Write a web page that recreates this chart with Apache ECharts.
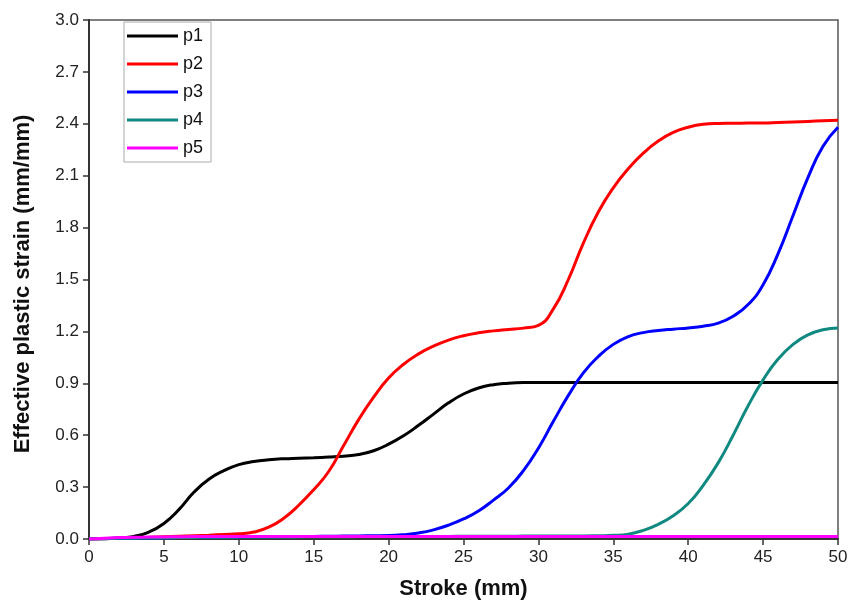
<!DOCTYPE html>
<html>
<head>
<meta charset="utf-8">
<script src="https://cdn.jsdelivr.net/npm/echarts@6/dist/echarts.min.js"></script>
<style>
html,body{margin:0;padding:0;background:#fff;}
#main{width:862px;height:605px;}
</style>
</head>
<body>
<div id="main"></div>
<script>
// stroke (mm), one sample per mm
var stroke = [];
for (var i = 0; i <= 50; i++) stroke.push(i);

var p1 = [0,0.002,0.006,0.015,0.04,0.09,0.17,0.27,0.345,0.395,
          0.43,0.448,0.458,0.464,0.467,0.47,0.474,0.479,0.488,0.51,
          0.548,0.597,0.657,0.722,0.787,0.838,0.873,0.892,0.9,0.904,
          0.905,0.905,0.905,0.905,0.905,0.905,0.905,0.905,0.905,0.905,
          0.905,0.905,0.905,0.905,0.905,0.905,0.905,0.905,0.905,0.905,0.905];
var p2 = [0,0.002,0.005,0.008,0.01,0.013,0.016,0.019,0.022,0.026,
          0.03,0.04,0.068,0.12,0.195,0.285,0.39,0.54,0.69,0.82,
          0.93,1.01,1.07,1.115,1.15,1.175,1.192,1.203,1.211,1.219,
          1.235,1.33,1.5,1.71,1.89,2.03,2.14,2.23,2.3,2.35,
          2.38,2.397,2.402,2.403,2.404,2.405,2.408,2.411,2.414,2.417,2.42];
var p3 = [0,0.002,0.004,0.005,0.006,0.007,0.008,0.009,0.01,0.011,
          0.012,0.013,0.013,0.014,0.014,0.015,0.016,0.017,0.018,0.019,
          0.02,0.025,0.035,0.053,0.08,0.116,0.162,0.225,0.295,0.395,
          0.525,0.68,0.83,0.96,1.055,1.125,1.17,1.193,1.205,1.213,
          1.22,1.23,1.248,1.288,1.355,1.47,1.65,1.87,2.09,2.27,2.38];
var p4 = [0,0.002,0.004,0.005,0.006,0.007,0.008,0.009,0.01,0.01,
          0.011,0.011,0.012,0.012,0.012,0.013,0.013,0.013,0.014,0.014,
          0.014,0.015,0.015,0.015,0.015,0.016,0.016,0.016,0.016,0.017,
          0.017,0.017,0.018,0.018,0.019,0.021,0.028,0.05,0.085,0.135,
          0.205,0.31,0.44,0.6,0.77,0.92,1.04,1.125,1.18,1.21,1.22];
var p5 = [0,0.005,0.008,0.01,0.011,0.012,0.013,0.014,0.014,0.015,
          0.015,0.015,0.015,0.015,0.015,0.015,0.015,0.015,0.015,0.015,
          0.015,0.015,0.015,0.015,0.015,0.015,0.015,0.015,0.015,0.015,
          0.015,0.015,0.015,0.015,0.015,0.015,0.015,0.015,0.015,0.015,
          0.015,0.015,0.015,0.015,0.015,0.015,0.015,0.015,0.015,0.015,0.015];

var names = ['p1','p2','p3','p4','p5'];
var colors = ['#000000','#ff0000','#0000ff','#108a80','#ff00ff'];
var values = [p1,p2,p3,p4,p5];

function pairs(arr) {
    var out = [];
    for (var i = 0; i < stroke.length; i++) out.push([stroke[i], arr[i]]);
    return out;
}

var series = [];
for (var k = 0; k < names.length; k++) {
    series.push({
        name: names[k],
        type: 'line',
        data: pairs(values[k]),
        smooth: 0.5,
        symbol: 'none',
        lineStyle: {color: colors[k], width: 3},
        itemStyle: {color: colors[k]}
    });
}

var font = 'Liberation Sans, Arial, sans-serif';
var myChart = echarts.init(document.getElementById('main'));
myChart.setOption({
    animation: false,
    backgroundColor: '#fff',
    grid: {
        left: 89, right: 24, top: 20, bottom: 65,
        show: true,
        borderColor: '#555',
        borderWidth: 1.5
    },
    legend: {
        orient: 'vertical',
        left: 124,
        top: 22,
        data: names,
        icon: 'rect',
        itemWidth: 51,
        itemHeight: 3,
        itemGap: 8,
        padding: [4, 8, 4, 3],
        borderColor: '#aaa',
        borderWidth: 1,
        textStyle: {fontFamily: font, fontSize: 18, color: '#111', lineHeight: 20}
    },
    xAxis: {
        type: 'value',
        min: 0, max: 50, interval: 5,
        name: 'Stroke (mm)',
        nameLocation: 'middle',
        nameGap: 39,
        nameTextStyle: {fontFamily: font, fontSize: 22, fontWeight: 'bold', color: '#111'},
        axisLine: {show: true, lineStyle: {color: '#333', width: 2}},
        axisTick: {show: true, inside: false, length: 6, lineStyle: {color: '#333', width: 1.5}},
        axisLabel: {fontFamily: font, fontSize: 17, color: '#222', margin: 10},
        splitLine: {show: false}
    },
    yAxis: {
        type: 'value',
        min: 0, max: 3, interval: 0.3,
        name: 'Effective plastic strain (mm/mm)',
        nameLocation: 'middle',
        nameGap: 55,
        nameTextStyle: {fontFamily: font, fontSize: 22, fontWeight: 'bold', color: '#111', padding: [0, 9, 0, 0]},
        axisLine: {show: true, lineStyle: {color: '#333', width: 2}},
        axisTick: {show: true, inside: false, length: 6, lineStyle: {color: '#333', width: 1.5}},
        axisLabel: {fontFamily: font, fontSize: 17, color: '#222', margin: 10,
            formatter: function (v) { return v.toFixed(1); }},
        splitLine: {show: false}
    },
    series: series
});
</script>
</body>
</html>
